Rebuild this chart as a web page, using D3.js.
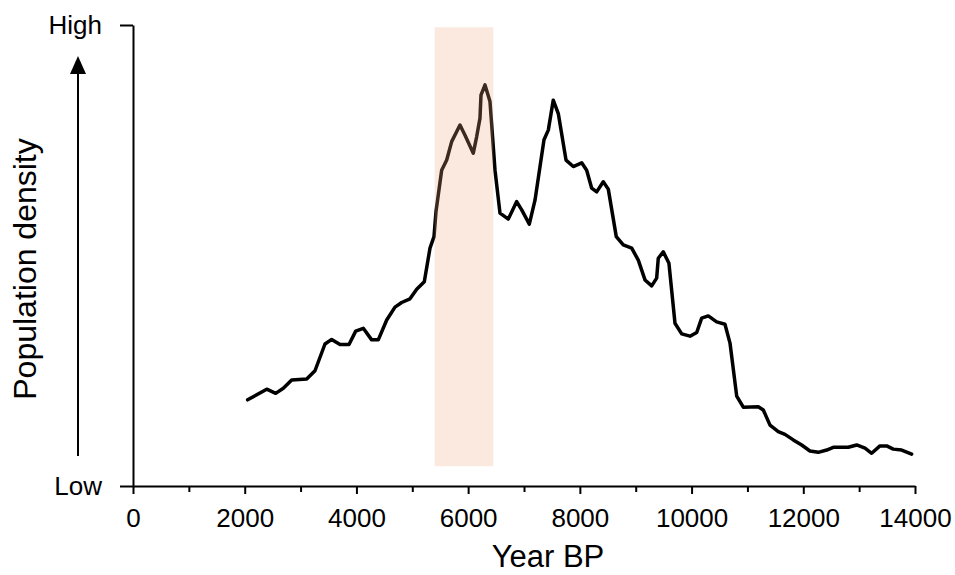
<!DOCTYPE html>
<html>
<head>
<meta charset="utf-8">
<script src="https://cdn.jsdelivr.net/npm/d3@7"></script>
<style>
  body { margin: 0; background: #fff; }
  .axis text { font-family: "Liberation Sans", Arial, sans-serif; font-size: 26px; fill: #000; }
  .axis path, .axis line { stroke: #000; stroke-width: 2px; }
  .label { font-family: "Liberation Sans", Arial, sans-serif; fill: #000; }
</style>
</head>
<body>
<div class="density_plot"></div>
<script>
// values (year BP, relative density 0-100)
const years = [2053, 2394, 2555, 2691, 2841, 3110, 3258, 3437, 3557, 3706, 3867, 3987, 4123, 4273, 4391,
  4542, 4690, 4810, 4959, 5079, 5215, 5317, 5389, 5424, 5526, 5616, 5705, 5854, 5944, 6092, 6153,
  6212, 6230, 6302, 6391, 6481, 6570, 6719, 6869, 6959, 7095, 7197, 7358, 7435, 7524, 7614, 7752,
  7882, 8033, 8122, 8212, 8301, 8419, 8509, 8652, 8777, 8928, 9046, 9166, 9286, 9375, 9404, 9493,
  9595, 9703, 9823, 9972, 10092, 10181, 10299, 10449, 10598, 10688, 10808, 10926, 11194, 11284,
  11404, 11552, 11672, 11821, 11971, 12120, 12268, 12419, 12537, 12806, 12956, 13105, 13224, 13373,
  13493, 13611, 13761, 13940];
const density = [18.7, 21.0, 20.1, 21.2, 23.0, 23.2, 25.0, 30.8, 31.8, 30.7, 30.7, 33.6, 34.2, 31.7, 31.7,
  36.0, 38.8, 39.8, 40.6, 42.7, 44.3, 51.6, 54.1, 59.5, 68.5, 70.7, 74.7, 78.3, 76.1, 72.2, 75.8,
  79.8, 84.8, 87.0, 83.4, 68.5, 59.2, 57.9, 61.7, 59.9, 56.8, 62.0, 75.1, 77.2, 83.7, 80.8, 70.7,
  69.3, 70.1, 68.5, 64.6, 63.8, 66.0, 64.4, 54.1, 52.3, 51.6, 49.0, 44.7, 43.4, 45.1, 49.4, 50.8,
  48.3, 35.3, 33.0, 32.5, 33.3, 36.4, 36.9, 35.6, 35.1, 31.0, 19.5, 17.1, 17.2, 16.5,
  13.2, 11.8, 11.2, 10.0, 8.9, 7.6, 7.3, 7.8, 8.4, 8.4, 8.9, 8.2, 7.1, 8.7,
  8.7, 8.0, 7.8, 6.9];

const bandYears = [5400, 6450];
const bandLevels = [4.3, 99.5];

const xTicks = [0, 2000, 4000, 6000, 8000, 10000, 12000, 14000];
const xMinorTicks = [1000, 3000, 5000, 7000, 9000, 11000, 13000];
const yTicks = [0, 100];
const yTickLabels = ['Low', 'High'];

const width = 955, height = 575;
const plot = {left: 133, right: 915, top: 25, bottom: 486};

const xScale = d3.scaleLinear()
                 .domain([0, 14000])
                 .range([plot.left, plot.right]);
const yScale = d3.scaleLinear()
                 .domain([0, 100])
                 .range([plot.bottom, plot.top]);

const svg = d3.select('.density_plot')
              .append('svg')
              .attr('width', width)
              .attr('height', height);

const points = years.map((y, i) => ({year: y, value: density[i]}));

const line = d3.line()
               .x(d => xScale(d.year))
               .y(d => yScale(d.value));

svg.append('path')
   .datum(points)
   .attr('fill', 'none')
   .attr('stroke', '#000')
   .attr('stroke-width', 3.5)
   .attr('stroke-linejoin', 'round')
   .attr('stroke-linecap', 'round')
   .attr('d', line);

// shaded period, drawn over the line
svg.append('rect')
   .attr('x', xScale(bandYears[0]))
   .attr('width', xScale(bandYears[1]) - xScale(bandYears[0]))
   .attr('y', yScale(bandLevels[1]))
   .attr('height', yScale(bandLevels[0]) - yScale(bandLevels[1]))
   .attr('fill', '#efa77f')
   .attr('fill-opacity', 0.25);

const xAxis = d3.axisBottom(xScale)
                .tickValues(xTicks)
                .tickFormat(d3.format('d'))
                .tickSize(8)
                .tickSizeOuter(0)
                .tickPadding(15);
const xMinor = d3.axisBottom(xScale)
                 .tickValues(xMinorTicks)
                 .tickFormat('')
                 .tickSize(6)
                 .tickSizeOuter(0);
const yAxis = d3.axisLeft(yScale)
                .tickValues(yTicks)
                .tickFormat((d, i) => yTickLabels[i])
                .tickSize(13)
                .tickSizeOuter(0)
                .tickPadding(18);

svg.append('g')
   .attr('class', 'axis x-axis')
   .attr('transform', `translate(0, ${plot.bottom})`)
   .call(xAxis);

svg.append('g')
   .attr('class', 'axis x-minor')
   .attr('transform', `translate(0, ${plot.bottom})`)
   .call(xMinor)
   .select('.domain').remove();

svg.append('g')
   .attr('class', 'axis y-axis')
   .attr('transform', `translate(${plot.left}, 0)`)
   .call(yAxis);

// arrow beside the y axis
svg.append('line')
   .attr('x1', 78).attr('x2', 78)
   .attr('y1', 456).attr('y2', 70)
   .attr('stroke', '#000')
   .attr('stroke-width', 2);
svg.append('path')
   .attr('d', 'M78,56 L70,74 L86,74 Z')
   .attr('fill', '#000');

svg.append('text')
   .attr('class', 'label')
   .attr('x', 548)
   .attr('y', 567)
   .attr('text-anchor', 'middle')
   .attr('font-size', 31)
   .text('Year BP');

svg.append('text')
   .attr('class', 'label')
   .attr('transform', 'translate(36, 269) rotate(-90)')
   .attr('text-anchor', 'middle')
   .attr('font-size', 32)
   .text('Population density');
</script>
</body>
</html>
